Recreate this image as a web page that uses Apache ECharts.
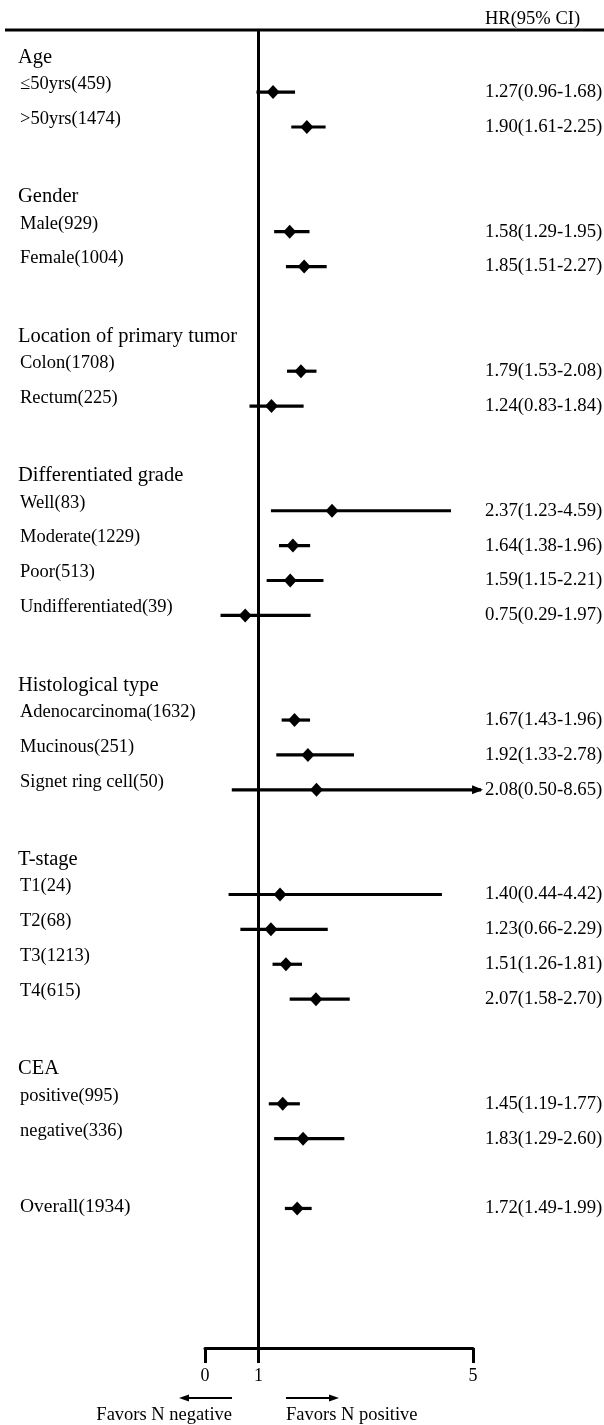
<!DOCTYPE html>
<html>
<head>
<meta charset="utf-8">
<script src="https://cdn.jsdelivr.net/npm/echarts@6/dist/echarts.min.js"></script>
<style>
  html, body { margin: 0; padding: 0; background: #fff; }
  #chart { width: 604px; height: 1425px; }
</style>
</head>
<body>
<div id="chart"></div>
<script>
// Subgroup rows, top to bottom. Header rows and spacer rows carry no estimate.
const rowNames = [
  'Age', '≤50yrs(459)', '>50yrs(1474)', '',
  'Gender', 'Male(929)', 'Female(1004)', '',
  'Location of primary tumor', 'Colon(1708)', 'Rectum(225)', '',
  'Differentiated grade', 'Well(83)', 'Moderate(1229)', 'Poor(513)', 'Undifferentiated(39)', '',
  'Histological type', 'Adenocarcinoma(1632)', 'Mucinous(251)', 'Signet ring cell(50)', '',
  'T-stage', 'T1(24)', 'T2(68)', 'T3(1213)', 'T4(615)', '',
  'CEA', 'positive(995)', 'negative(336)', '',
  'Overall(1934)'
];
const hr = [
  null, 1.27, 1.90, null,
  null, 1.58, 1.85, null,
  null, 1.79, 1.24, null,
  null, 2.37, 1.64, 1.59, 0.75, null,
  null, 1.67, 1.92, 2.08, null,
  null, 1.40, 1.23, 1.51, 2.07, null,
  null, 1.45, 1.83, null,
  1.72
];
const ciLow = [
  null, 0.96, 1.61, null,
  null, 1.29, 1.51, null,
  null, 1.53, 0.83, null,
  null, 1.23, 1.38, 1.15, 0.29, null,
  null, 1.43, 1.33, 0.50, null,
  null, 0.44, 0.66, 1.26, 1.58, null,
  null, 1.19, 1.29, null,
  1.49
];
const ciHigh = [
  null, 1.68, 2.25, null,
  null, 1.95, 2.27, null,
  null, 2.08, 1.84, null,
  null, 4.59, 1.96, 2.21, 1.97, null,
  null, 1.96, 2.78, 8.65, null,
  null, 4.42, 2.29, 1.81, 2.70, null,
  null, 1.77, 2.60, null,
  1.99
];
const xTicks = [0, 1, 5];
const estimateHeader = 'HR(95% CI)';
const favorLeft = 'Favors N negative';
const favorRight = 'Favors N positive';

const FONT = '"Liberation Serif", "Times New Roman", serif';
const AXIS_MAX = 5;
const ARROW_LIMIT = 5.15;  // intervals running past the axis end in an arrow here
const INK = '#000';

const fmt = v => v.toFixed(2);

function renderRow(params, api) {
  const i = params.dataIndex;
  const name = rowNames[i];
  const y = api.coord([0, i])[1];
  const children = [];
  if (hr[i] == null) {
    if (name) {
      children.push({
        type: 'text',
        style: { x: 18, y: y, text: name, font: '20.5px ' + FONT, fill: INK,
                 textAlign: 'left', textVerticalAlign: 'middle' }
      });
    }
    return { type: 'group', children };
  }
  const isOverall = i === rowNames.length - 1;
  children.push({
    type: 'text',
    style: { x: 20, y: isOverall ? y - 2 : y - 8, text: name,
             font: (isOverall ? '19.5px ' : '18.5px ') + FONT, fill: INK,
             textAlign: 'left', textVerticalAlign: 'middle' }
  });
  const hiShown = Math.min(ciHigh[i], ARROW_LIMIT);
  const p0 = api.coord([ciLow[i], i]);
  const p1 = api.coord([hiShown, i]);
  const pc = api.coord([hr[i], i]);
  children.push({
    type: 'line',
    shape: { x1: p0[0], y1: p0[1], x2: p1[0], y2: p1[1] },
    style: { stroke: INK, lineWidth: 3.2 }
  });
  if (ciHigh[i] > AXIS_MAX) {
    children.push({
      type: 'polygon',
      shape: { points: [[p1[0] + 2, p1[1]], [p1[0] - 9, p1[1] - 4.5], [p1[0] - 9, p1[1] + 4.5]] },
      style: { fill: INK }
    });
  }
  children.push({
    type: 'polygon',
    shape: { points: [[pc[0] - 6.5, pc[1]], [pc[0], pc[1] - 7], [pc[0] + 6.5, pc[1]], [pc[0], pc[1] + 7]] },
    style: { fill: INK }
  });
  children.push({
    type: 'text',
    style: { x: 485, y: y, text: fmt(hr[i]) + '(' + fmt(ciLow[i]) + '-' + fmt(ciHigh[i]) + ')',
             font: '18.8px ' + FONT, fill: INK, textAlign: 'left', textVerticalAlign: 'middle' }
  });
  return { type: 'group', children };
}

const chart = echarts.init(document.getElementById('chart'), null, { renderer: 'canvas' });

chart.setOption({
  backgroundColor: '#fff',
  animation: false,
  grid: { left: 205, right: 131, top: 30, bottom: 77, containLabel: false },
  xAxis: {
    type: 'value',
    min: 0,
    max: AXIS_MAX,
    interval: 1,
    position: 'bottom',
    splitLine: { show: false },
    axisLine: { show: true, onZero: false, lineStyle: { color: INK, width: 3 } },
    axisTick: { show: true, customValues: xTicks, length: 15, inside: false,
                lineStyle: { color: INK, width: 3 } },
    axisLabel: { show: true, customValues: xTicks, margin: 19, color: INK,
                 fontFamily: FONT, fontSize: 18 }
  },
  yAxis: {
    type: 'value',
    inverse: true,
    min: -0.78,
    max: 37,
    show: false
  },
  series: [{
    type: 'custom',
    clip: false,
    renderItem: renderRow,
    encode: { x: 0, y: 1 },
    data: rowNames.map((_, i) => [hr[i] == null ? 1 : hr[i], i]),
    markLine: {
      silent: true,
      symbol: 'none',
      label: { show: false },
      lineStyle: { color: INK, width: 3, type: 'solid' },
      data: [{ xAxis: 1 }]
    }
  }],
  graphic: [
    { type: 'line', shape: { x1: 5, y1: 30, x2: 604, y2: 30 },
      style: { stroke: INK, lineWidth: 3 } },
    { type: 'text', left: 485, top: 10,
      style: { text: estimateHeader, font: '18.5px ' + FONT, fill: INK } },
    // direction arrows under the axis
    { type: 'line', shape: { x1: 188, y1: 1398, x2: 232, y2: 1398 },
      style: { stroke: INK, lineWidth: 2 } },
    { type: 'polygon', shape: { points: [[179, 1398], [189, 1394.5], [189, 1401.5]] },
      style: { fill: INK } },
    { type: 'line', shape: { x1: 286, y1: 1398, x2: 330, y2: 1398 },
      style: { stroke: INK, lineWidth: 2 } },
    { type: 'polygon', shape: { points: [[339, 1398], [329, 1394.5], [329, 1401.5]] },
      style: { fill: INK } },
    { type: 'text', right: 604 - 232, top: 1406,
      style: { text: favorLeft, font: '18.5px ' + FONT, fill: INK } },
    { type: 'text', left: 286, top: 1406,
      style: { text: favorRight, font: '18.5px ' + FONT, fill: INK } }
  ]
});
</script>
</body>
</html>
